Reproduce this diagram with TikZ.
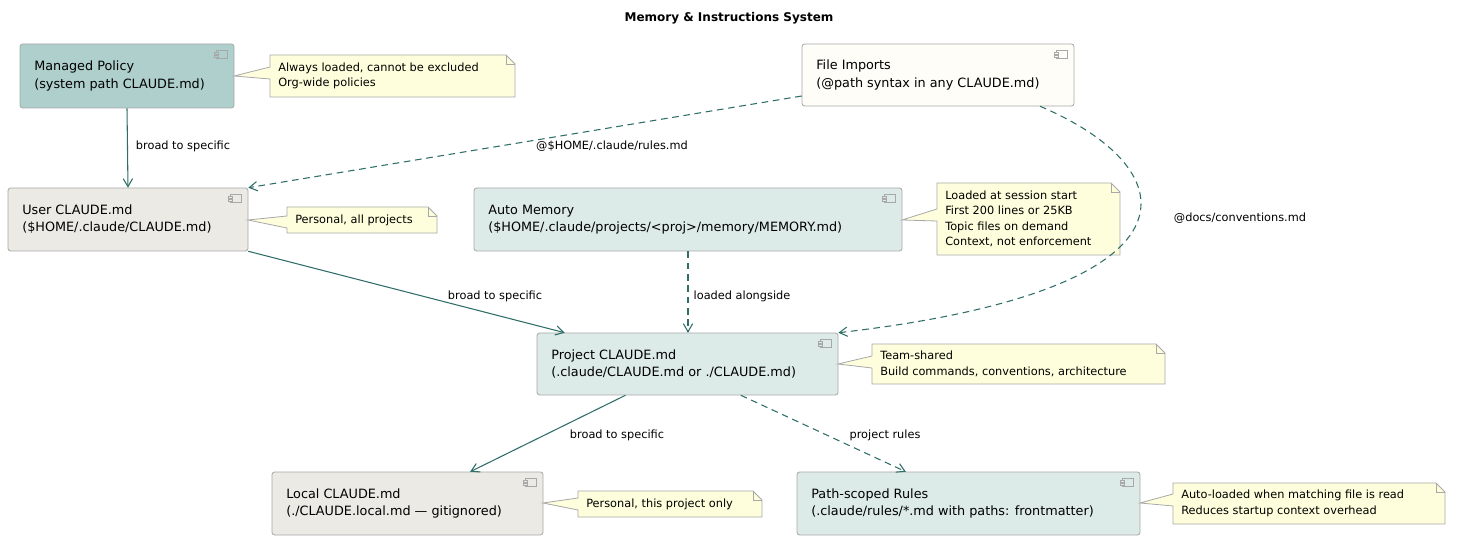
\documentclass[tikz,border=0pt]{standalone}
\usepackage{fontspec}
\setmainfont{DejaVu Sans}
\usetikzlibrary{calc,fit,arrows.meta}
\definecolor{arr}{HTML}{2F6E68}
\definecolor{mgd}{HTML}{AECFCC}
\definecolor{usr}{HTML}{ECEAE5}
\definecolor{tea}{HTML}{DDEBE8}
\definecolor{fil}{HTML}{FEFDF8}
\definecolor{nfill}{HTML}{FEFEDD}
\definecolor{bord}{HTML}{A8A8A8}
\tikzset{
  x=0.75pt,y=-0.75pt,
  boxtxt/.style={anchor=west,align=left,font=\fontsize{9.6}{12.8}\selectfont,inner sep=0},
  notetxt/.style={anchor=west,align=left,font=\fontsize{8.5}{11.5}\selectfont,inner sep=0},
  lbl/.style={font=\fontsize{8.5}{10}\selectfont,inner sep=0},
  solidarr/.style={draw=arr,line width=0.8pt,-{Straight Barb[length=6pt,width=7pt]}},
  dasharr/.style={solidarr,dash pattern=on 5pt off 3.5pt},
}
\newcommand\comp[7]{%
  \path[draw=bord,line width=0.6pt,fill=#6,rounded corners=2pt] (#2,#3) rectangle (#4,#5);
  \node[inner sep=0,fit={(#2,#3)(#4,#5)}] (#1) {};
  \node[boxtxt] (#1t) at ({#2+14},{(#3+#5)/2}) {#7};
  \draw[bord,line width=0.5pt,fill=#6] ({#4-18},{#3+6}) rectangle ({#4-7},{#3+14});
  \draw[bord,line width=0.5pt,fill=#6] ({#4-20},{#3+8}) rectangle ({#4-16},{#3+10});
  \draw[bord,line width=0.5pt,fill=#6] ({#4-20},{#3+11}) rectangle ({#4-16},{#3+13});
}
\newcommand\mynote[8]{%
  \path[draw=bord,line width=0.6pt,fill=nfill,line join=miter] (#2,#3) -- ({#4-9},#3) -- (#4,{#3+9}) -- (#4,#5) -- (#2,#5) -- (#2,{#8+6}) -- (#7) -- (#2,{#8-6}) -- cycle;
  \draw[bord,line width=0.6pt] ({#4-9},#3) -- ({#4-9},{#3+9}) -- (#4,{#3+9});
  \node[notetxt] (#1) at ({#2+8},{(#3+#5)/2}) {#6};
}
\begin{document}
\begin{tikzpicture}
\useasboundingbox (0,0) rectangle (1459,548);
\node[font=\bfseries\fontsize{9}{11}\selectfont] (title) at (729,18) {Memory \& Instructions System};
\comp{managed}{20}{44}{234}{108}{mgd}{Managed Policy\\(system path CLAUDE.md)}
\comp{file}{802}{44}{1074}{106}{fil}{File Imports\\(@path syntax in any CLAUDE.md)}
\comp{user}{8}{188}{248}{251}{usr}{User CLAUDE.md\\(\$HOME/.claude/CLAUDE.md)}
\comp{auto}{474}{188}{902}{251}{tea}{Auto Memory\\(\$HOME/.claude/projects/<proj>/memory/MEMORY.md)}
\comp{project}{537}{333}{838}{395}{tea}{Project CLAUDE.md\\(.claude/CLAUDE.md or ./CLAUDE.md)}
\comp{local}{272}{472}{543}{535}{usr}{Local CLAUDE.md\\(./CLAUDE.local.md — gitignored)}
\comp{path}{797}{472}{1140}{535}{tea}{Path-scoped Rules\\(.claude/rules/*.md with paths: frontmatter)}
\coordinate (c1) at (234,76);
\coordinate (c2) at (248,220);
\coordinate (c3) at (902,220);
\coordinate (c4) at (838,364);
\coordinate (c5) at (543,503);
\coordinate (c6) at (1140,503);
\mynote{n1}{270}{55}{515}{97}{Always loaded, cannot be excluded\\Org-wide policies}{c1}{73}
\mynote{n2}{287}{207}{437}{233}{Personal, all projects}{c2}{222}
\mynote{n3}{937}{183}{1120}{255}{Loaded at session start\\First 200 lines or 25KB\\Topic files on demand\\Context, not enforcement}{c3}{215}
\mynote{n4}{872}{344}{1165}{384}{Team-shared\\Build commands, conventions, architecture}{c4}{362}
\mynote{n5}{578}{491}{762}{517}{Personal, this project only}{c5}{504}
\mynote{n6}{1173}{483}{1445}{524}{Auto-loaded when matching file is read\\Reduces startup context overhead}{c6}{500}
\draw[solidarr] (managed.south) -- (user.north);
\node[lbl] (l1) at (183,146) {broad to specific};
\draw[dasharr] ([yshift=-15.75pt]file.west) -- (user.north east);
\node[lbl] (l2) at (612,146) {@\$HOME/.claude/rules.md};
\draw[dasharr] ([xshift=76.5pt]file.south) .. controls (1190,170) and (1210,290) .. (project.north east);
\node[lbl] (l3) at (1240,218) {@docs/conventions.md};
\draw[solidarr] (user.south east) -- ([xshift=21pt]project.north west);
\node[lbl] (l4) at (495,296) {broad to specific};
\draw[dasharr] (auto.south) -- (auto.south |- project.north);
\node[lbl] (l5) at (742,296) {loaded alongside};
\draw[solidarr] ([xshift=-46.5pt]project.south) -- ([xshift=47pt]local.north);
\node[lbl] (l6) at (617,435) {broad to specific};
\draw[dasharr] ([xshift=40pt]project.south) -- ([xshift=-47pt]path.north);
\node[lbl] (l7) at (885,435) {project rules};
\end{tikzpicture}
\end{document}
